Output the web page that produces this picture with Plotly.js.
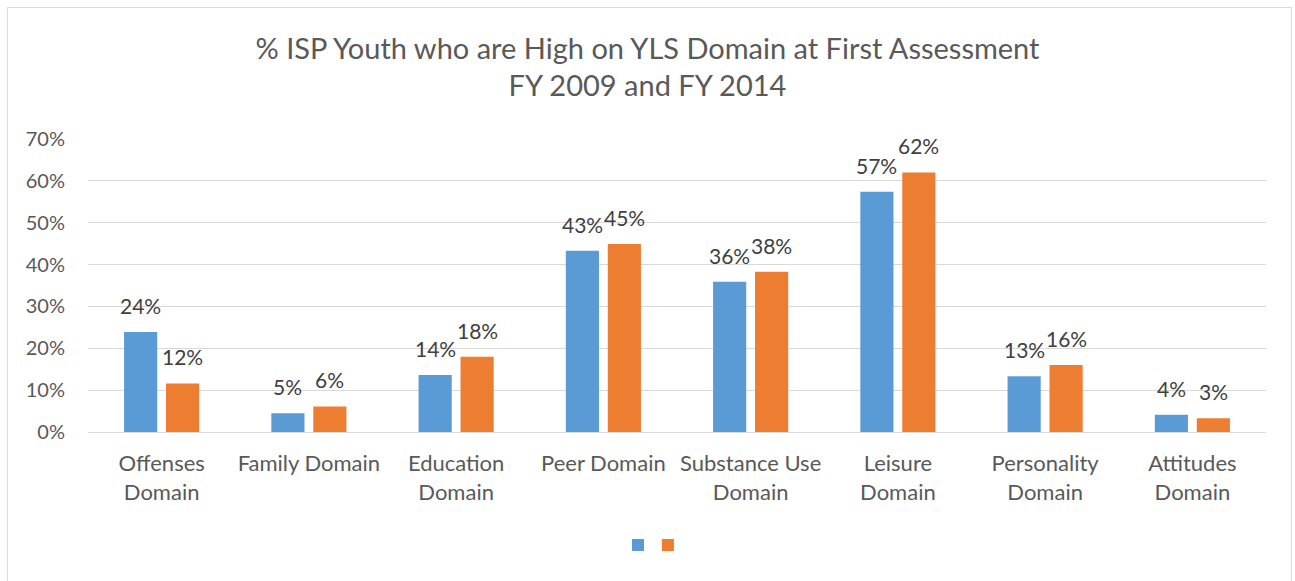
<!DOCTYPE html>
<html>
<head>
<meta charset="utf-8">
<script src="https://cdn.plot.ly/plotly-3.0.1.min.js"></script>
<style>
  html, body { margin: 0; padding: 0; background: #fff; }
  #wrap { position: relative; width: 1295px; height: 581px; overflow: hidden; }
  #chart { position: absolute; left: 0; top: 0; width: 1295px; height: 581px; }
  #frame { position: absolute; left: 7px; top: 7px; width: 1285px; height: 600px;
           border: 1px solid #d9d9d9; pointer-events: none; box-sizing: border-box; }
</style>
</head>
<body>
<div id="wrap">
  <div id="chart"></div>
  <div id="frame"></div>
</div>
<script>
const categories = ["Offenses<br>Domain", "Family Domain", "Education<br>Domain", "Peer Domain",
                    "Substance Use<br>Domain", "Leisure<br>Domain", "Personality<br>Domain", "Attitudes<br>Domain"];
const fy2009 = [23.9, 4.5, 13.6, 43.3, 35.9, 57.4, 13.3, 4.1];
const fy2014 = [11.6, 6.1, 18.0, 44.9, 38.3, 62.0, 16.0, 3.3];
const yTicks = [0, 10, 20, 30, 40, 50, 60, 70];

const FONT = "Lato, 'Open Sans', sans-serif";
const blue = "#5B9BD5", orange = "#ED7D31";

const traces = [
  { type: "bar", x: categories, y: fy2009, name: "", legend: "legend", marker: { color: blue }, hoverinfo: "y" },
  { type: "bar", x: categories, y: fy2014, name: "", legend: "legend2", marker: { color: orange }, hoverinfo: "y" }
];

const annotations = [];
[[fy2009, -21], [fy2014, 21]].forEach(([vals, dx]) => {
  vals.forEach((v, i) => {
    annotations.push({
      x: categories[i], y: v, xref: "x", yref: "y",
      text: Math.round(v) + "%", showarrow: false,
      xanchor: "center", yanchor: "bottom", xshift: dx, yshift: 12,
      font: { family: FONT, size: 21, color: "#404040" }
    });
  });
});

const legendBase = {
  orientation: "h", xanchor: "left", y: -0.386, yanchor: "middle",
  font: { family: FONT, size: 16, color: "#595959" }, bgcolor: "rgba(0,0,0,0)"
};

const layout = {
  width: 1295, height: 581,
  margin: { l: 88, r: 29, t: 139, b: 149 },
  paper_bgcolor: "#fff", plot_bgcolor: "#fff",
  title: {
    text: "% ISP Youth who are High on YLS Domain at First Assessment<br>FY 2009 and FY 2014",
    font: { family: FONT, size: 29, color: "#595959" },
    x: 0.5, xanchor: "center", y: 0.899, yanchor: "middle"
  },
  barmode: "group", bargap: 0.43, bargroupgap: 0.21,
  xaxis: {
    tickfont: { family: FONT, size: 22, color: "#595959" },
    showline: true, linecolor: "#d9d9d9", linewidth: 1,
    ticks: "", ticklabelstandoff: 12, fixedrange: true
  },
  yaxis: {
    range: [0, 70], tickvals: yTicks, ticktext: yTicks.map(t => t + "%"),
    tickfont: { family: FONT, size: 20, color: "#595959" },
    gridcolor: "#d9d9d9", gridwidth: 1, zeroline: true, zerolinecolor: "#d9d9d9",
    ticks: "", ticklabelstandoff: 22, fixedrange: true
  },
  showlegend: true,
  legend: Object.assign({}, legendBase, { x: 0.4499 }),
  legend2: Object.assign({}, legendBase, { x: 0.4753 }),
  annotations: annotations
};

Plotly.newPlot("chart", traces, layout, { displayModeBar: false, staticPlot: true });
</script>
</body>
</html>
